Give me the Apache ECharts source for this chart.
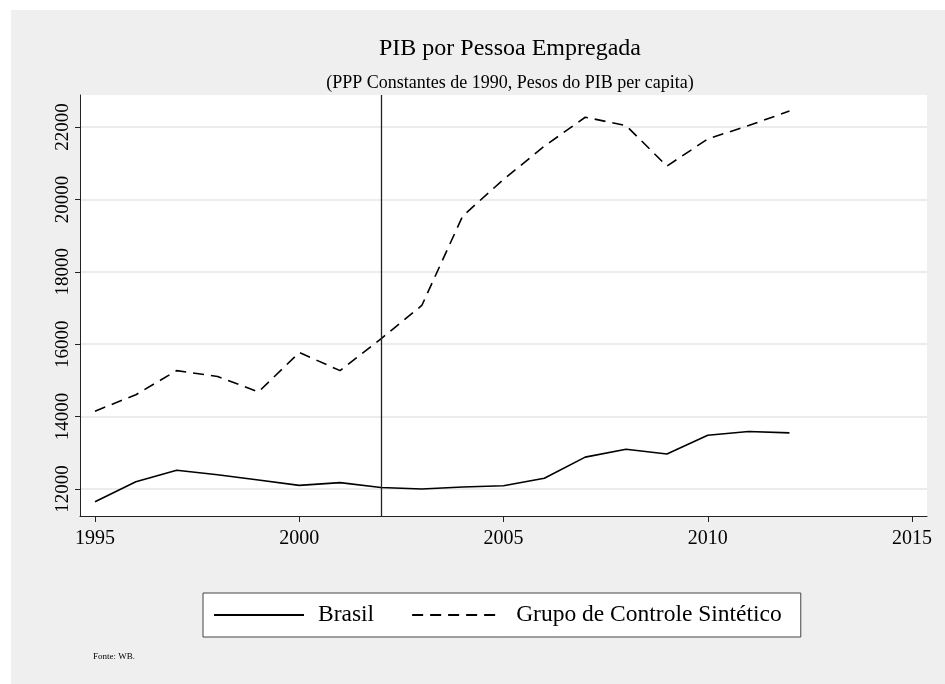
<!DOCTYPE html>
<html>
<head>
<meta charset="utf-8">
<script src="https://cdn.jsdelivr.net/npm/echarts@6/dist/echarts.min.js"></script>
<style>
  html, body { margin: 0; padding: 0; background: #ffffff; }
  #frame { position: absolute; left: 11px; top: 10px; width: 934px; height: 674px; background: #efefef; }
  #chart { width: 934px; height: 674px; }
</style>
</head>
<body>
<div id="frame"><div id="chart"></div></div>
<script>
// ---- data ----
const years = [1995, 1996, 1997, 1998, 1999, 2000, 2001, 2002, 2003, 2004, 2005, 2006, 2007, 2008, 2009, 2010, 2011, 2012];
const brasil = [11650, 12200, 12520, 12395, 12250, 12100, 12175, 12040, 12000, 12055, 12090, 12295, 12880, 13100, 12965, 13485, 13590, 13550];
const sintetico = [14150, 14605, 15270, 15110, 14680, 15770, 15270, 16150, 17070, 19540, 20550, 21470, 22270, 22040, 20920, 21670, 22040, 22440];
const seriesNames = ['Brasil', 'Grupo de Controle Sintético'];
const treatmentYear = 2002;
const xTicks = { min: 1995, max: 2015, interval: 5 };
const yTicks = { min: 12000, max: 22000, interval: 2000 };
const titleText = 'PIB por Pessoa Empregada';
const subtitleText = '(PPP Constantes de 1990, Pesos do PIB per capita)';
const noteText = 'Fonte: WB.';

// ---- layout (page pixels) ----
const OX = 11, OY = 10, W = 934, H = 674;
const plot = { l: 80, r: 927, t: 95, b: 516 };   // white plot region
const xPix = { a: 95, b: 912 };                   // pixel of xTicks.min / xTicks.max
const yPix = { a: 489, b: 127 };                  // pixel of yTicks.min / yTicks.max
const FONT = '"Liberation Serif", "Times New Roman", serif';

const xPerPx = (xTicks.max - xTicks.min) / (xPix.b - xPix.a);
const yPerPx = (yTicks.max - yTicks.min) / (yPix.a - yPix.b);
const xFull = { min: xTicks.min - (xPix.a - plot.l) * xPerPx, max: xTicks.max + (plot.r - xPix.b) * xPerPx };
const yFull = { min: yTicks.min - (plot.b - yPix.a) * yPerPx, max: yTicks.max + (yPix.b - plot.t) * yPerPx };

const gridA = { left: plot.l - OX, right: W - (plot.r - OX), top: plot.t - OY, bottom: H - (plot.b - OY) };
const gridB = { left: plot.l - OX, right: W - (plot.r - OX), top: yPix.b - OY, bottom: H - (yPix.a - OY) };
const gridC = { left: xPix.a - OX, right: W - (xPix.b - OX), top: yPix.b - OY, bottom: H - (yPix.a - OY) };

const chart = echarts.init(document.getElementById('chart'), null, { renderer: 'canvas' });
const axisColor = '#222';
const plain = v => String(Math.round(v));

chart.setOption({
  backgroundColor: 'transparent',
  animation: false,
  title: [
    { text: titleText, left: 505 - OX, top: 32 - OY, textAlign: 'center',
      textStyle: { fontFamily: FONT, fontSize: 24, fontWeight: 'normal', color: '#000' } },
    { text: subtitleText, left: 505 - OX, top: 69 - OY, textAlign: 'center',
      textStyle: { fontFamily: FONT, fontSize: 18, fontWeight: 'normal', color: '#000' } },
    { text: noteText, left: 88 - OX, top: 647 - OY,
      textStyle: { fontFamily: FONT, fontSize: 9, fontWeight: 'normal', color: '#000' } }
  ],
  legend: {
    data: seriesNames,
    left: 203 - OX, top: 593 - OY,
    orient: 'horizontal',
    backgroundColor: '#fff',
    borderColor: '#444', borderWidth: 1,
    padding: [10, 19, 10, 10],
    itemWidth: 90, itemHeight: 14, itemGap: 37,
    itemStyle: { opacity: 0 },
    textStyle: { fontFamily: FONT, fontSize: 23.5, color: '#000', padding: [0, 0, 0, 9] },
    selectedMode: false
  },
  grid: [
    Object.assign({ show: true, backgroundColor: '#fff', borderWidth: 0 }, gridA),
    Object.assign({ show: false }, gridB),
    Object.assign({ show: false }, gridC)
  ],
  xAxis: [
    { gridIndex: 0, type: 'value', min: xFull.min, max: xFull.max,
      axisLine: { show: true, onZero: false, lineStyle: { color: axisColor, width: 1 } },
      axisTick: { show: false }, axisLabel: { show: false }, splitLine: { show: false } },
    { gridIndex: 1, type: 'value', show: false, min: xFull.min, max: xFull.max },
    { gridIndex: 2, type: 'value', min: xTicks.min, max: xTicks.max, interval: xTicks.interval,
      offset: plot.b - yPix.a,
      axisLine: { show: false },
      axisTick: { show: true, inside: false, length: 6, lineStyle: { color: axisColor, width: 1 } },
      axisLabel: { show: true, margin: 13, fontFamily: FONT, fontSize: 20, color: '#000', formatter: plain },
      splitLine: { show: false } }
  ],
  yAxis: [
    { gridIndex: 0, type: 'value', min: yFull.min, max: yFull.max,
      axisLine: { show: true, onZero: false, lineStyle: { color: axisColor, width: 1 } },
      axisTick: { show: false }, axisLabel: { show: false }, splitLine: { show: false } },
    { gridIndex: 1, type: 'value', min: yTicks.min, max: yTicks.max, interval: yTicks.interval,
      axisLine: { show: false },
      axisTick: { show: true, inside: false, length: 5, lineStyle: { color: axisColor, width: 1 } },
      axisLabel: { show: true, rotate: 90, margin: 7, fontFamily: FONT, fontSize: 19, color: '#000', formatter: plain },
      splitLine: { show: true, lineStyle: { color: '#e6e6e6', width: 1.5 } } },
    { gridIndex: 2, type: 'value', show: false, min: yTicks.min, max: yTicks.max }
  ],
  series: [
    { name: '__vline', type: 'line', xAxisIndex: 0, yAxisIndex: 0, data: [], silent: true,
      markLine: { silent: true, symbol: ['none', 'none'], label: { show: false },
        lineStyle: { color: axisColor, width: 1.3, type: 'solid' },
        data: [{ xAxis: treatmentYear }] } },
    { name: seriesNames[0], type: 'line', xAxisIndex: 2, yAxisIndex: 2, clip: false,
      data: years.map((y, i) => [y, brasil[i]]), showSymbol: false, symbol: 'none',
      lineStyle: { color: '#000', width: 1.6, type: 'solid' }, itemStyle: { color: '#000' } },
    { name: seriesNames[1], type: 'line', xAxisIndex: 2, yAxisIndex: 2, clip: false,
      data: years.map((y, i) => [y, sintetico[i]]), showSymbol: false, symbol: 'none',
      lineStyle: { color: '#000', width: 1.6, type: [11, 7] }, itemStyle: { color: '#000' } }
  ]
});
</script>
</body>
</html>
